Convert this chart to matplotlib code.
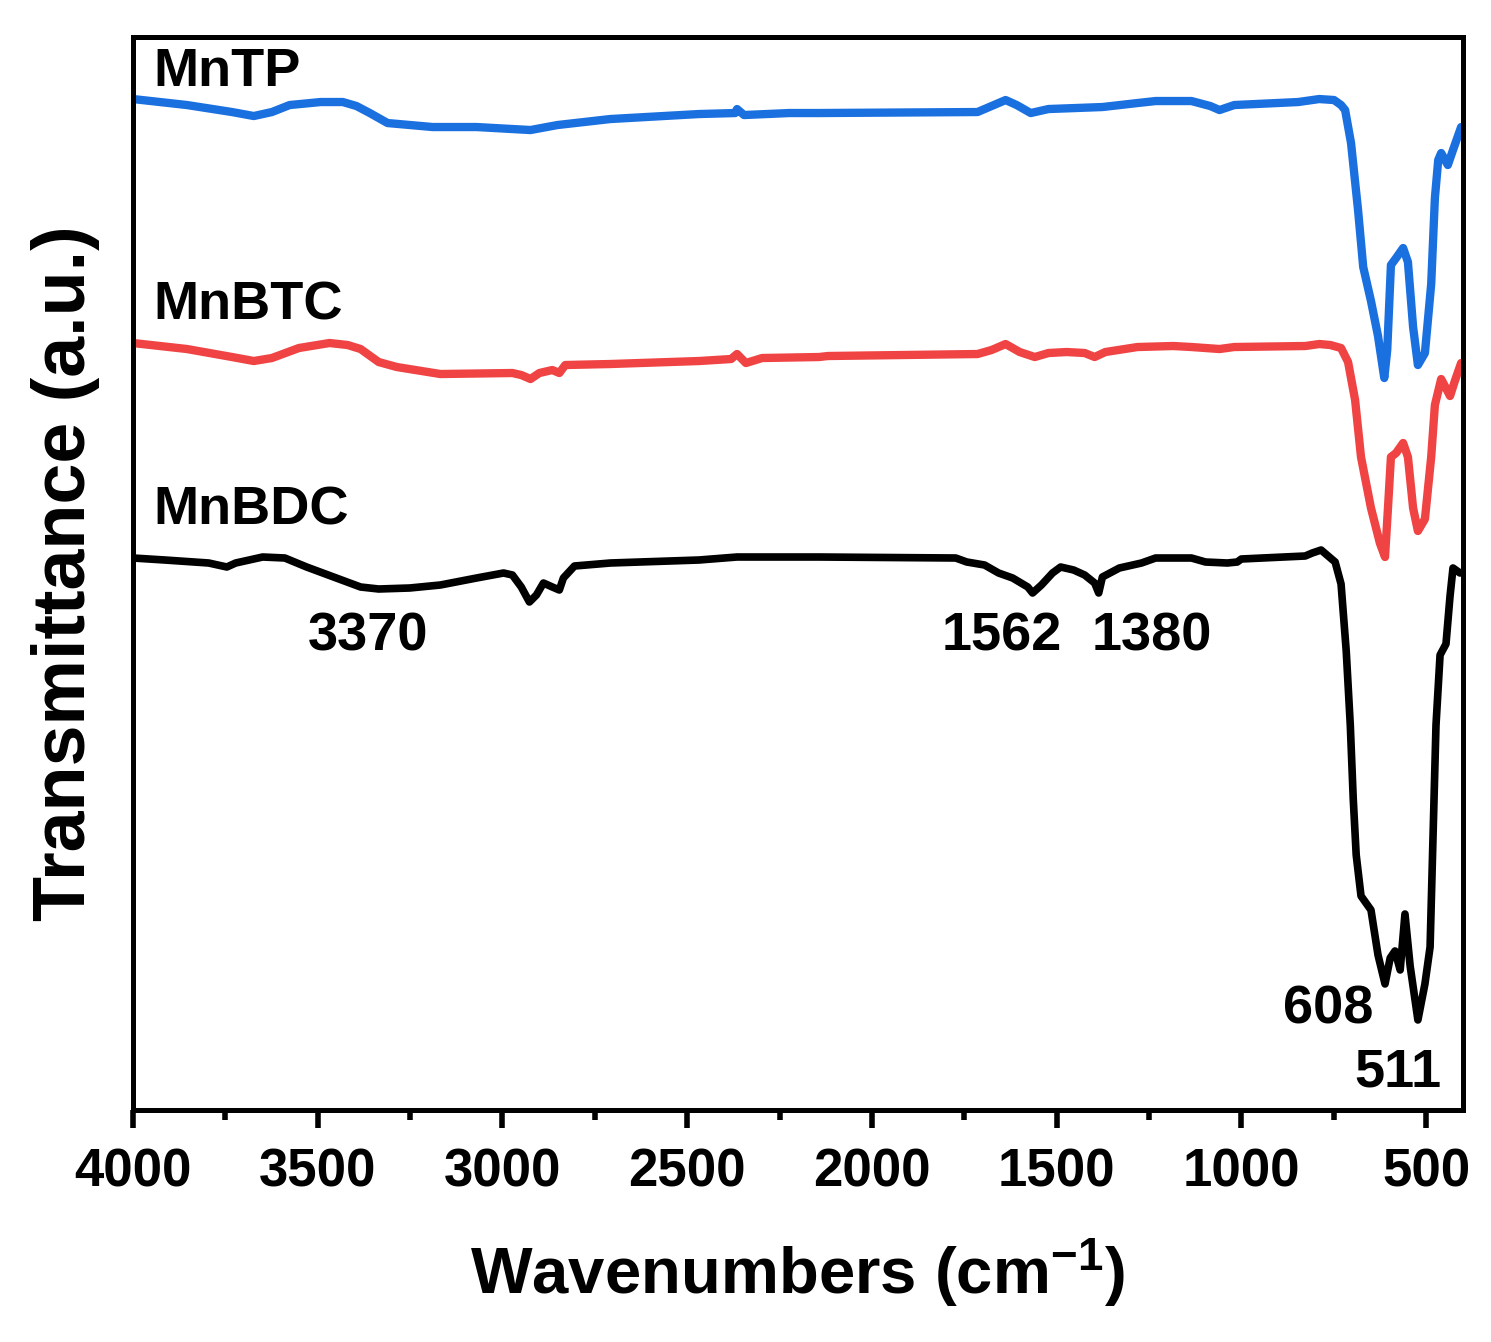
import matplotlib
matplotlib.use("Agg")
import numpy as np
import matplotlib.pyplot as plt
from matplotlib.ticker import MultipleLocator

plt.rcParams['font.family'] = ['Liberation Sans', 'DejaVu Sans']
plt.rcParams['font.weight'] = 'bold'
plt.rcParams['mathtext.fontset'] = 'custom'
plt.rcParams['mathtext.rm'] = 'Liberation Sans:bold'
plt.rcParams['mathtext.bf'] = 'Liberation Sans:bold'
plt.rcParams['mathtext.default'] = 'bf'

# MnTP (blue)
wn_tp = [4000, 3854, 3732, 3673, 3624, 3576, 3492, 3432, 3395, 3359, 3311, 3189, 3070,
         2973, 2924, 2851, 2708, 2468, 2370, 2365, 2346, 2224, 2143, 1714, 1657, 1638,
         1608, 1570, 1522, 1376, 1281, 1232, 1135, 1084, 1059, 1019, 846, 789, 749, 730,
         719, 703, 684, 670, 649, 630, 613, 605, 595, 581, 562, 549, 535, 522, 503, 486,
         476, 467, 459, 441, 427, 405]
t_tp = [101.1, 100.5, 99.8, 99.4, 99.8, 100.5, 100.8, 100.8, 100.4, 99.7, 98.7, 98.3, 98.3,
        98.1, 98.0, 98.5, 99.1, 99.6, 99.7, 100.1, 99.5, 99.7, 99.7, 99.8, 100.7, 101.0,
        100.5, 99.7, 100.1, 100.3, 100.7, 100.9, 100.9, 100.4, 100.0, 100.5, 100.8, 101.1, 101.0, 100.5,
        100.0, 96.7, 90.0, 84.3, 80.9, 77.4, 73.2, 76.0, 84.5, 85.2, 86.2, 84.8, 78.3, 74.5, 75.7, 82.6,
        91.2, 95.0, 95.7, 94.5, 96.0, 98.3]

# MnBTC (red)
wn_btc = [4000, 3854, 3732, 3673, 3624, 3551, 3468, 3419, 3384, 3335, 3286, 3168, 2973,
          2949, 2924, 2900, 2865, 2846, 2830, 2708, 2468, 2381, 2365, 2341, 2297, 2143,
          2119, 1714, 1676, 1638, 1600, 1559, 1522, 1473, 1424, 1397, 1368, 1281, 1184,
          1135, 1059, 1019, 827, 789, 759, 730, 711, 692, 676, 649, 625, 611, 603, 595,
          581, 562, 549, 535, 522, 503, 486, 476, 459, 449, 435, 422, 405]
t_btc = [76.7, 76.1, 75.3, 74.9, 75.2, 76.2, 76.7, 76.5, 76.1, 74.8, 74.3, 73.6, 73.7,
         73.5, 73.1, 73.7, 74.0, 73.7, 74.5, 74.6, 74.9, 75.1, 75.6, 74.7, 75.2, 75.3,
         75.4, 75.6, 76.0, 76.6, 75.8, 75.3, 75.7, 75.8, 75.7, 75.3, 75.8, 76.3, 76.4,
         76.3, 76.1, 76.3, 76.4, 76.6, 76.5, 76.2, 74.8, 71.0, 65.3, 60.2, 56.7, 55.3, 60.2, 65.3,
         65.7, 66.7, 65.3, 60.2, 57.9, 59.1, 65.3, 70.5, 73.1, 72.4, 71.4, 72.9, 74.7]

# MnBDC (black)
wn_bdc = [4000, 3914, 3795, 3746, 3722, 3649, 3589, 3530, 3457, 3384, 3335, 3251, 3168,
          3070, 2997, 2973, 2949, 2927, 2908, 2889, 2865, 2846, 2835, 2805, 2708, 2468,
          2365, 2143, 1773, 1743, 1695, 1657, 1619, 1578, 1565, 1541, 1511, 1489, 1454,
          1424, 1397, 1386, 1376, 1330, 1270, 1232, 1135, 1097, 1038, 1011, 1000, 943,
          827, 808, 784, 746, 730, 716, 705, 697, 689, 676, 649, 630, 611, 597, 584, 570,
          557, 543, 522, 503, 489, 481, 473, 462, 446, 435, 427, 408]
t_bdc = [55.2, 55.0, 54.7, 54.3, 54.7, 55.3, 55.2, 54.3, 53.3, 52.3, 52.1, 52.2, 52.5,
         53.2, 53.7, 53.5, 52.3, 50.8, 51.5, 52.7, 52.3, 52.0, 53.2, 54.4, 54.7, 55.0,
         55.3, 55.3, 55.2, 54.8, 54.5, 53.7, 53.2, 52.3, 51.7, 52.5, 53.7, 54.3, 54.0,
         53.5, 52.7, 51.7, 53.3, 54.2, 54.7, 55.2, 55.2, 54.8, 54.7, 54.8, 55.1, 55.2,
         55.4, 55.7, 56.0, 54.8, 52.6, 45.9, 38.5, 31.1, 25.5, 21.4, 20.0, 15.5, 12.6, 15.2, 15.9, 14.0,
         19.6, 14.4, 9.0, 12.6, 16.3, 27.4, 38.5, 45.5, 46.6, 51.4, 54.2, 53.7]

names = ["MnTP", "MnBTC", "MnBDC"]
name_y = [103.8, 80.5, 60.0]
peak_labels = ["3370", "1562", "1380", "608", "511"]
peak_x = [3365, 1649, 1243, 765, 576]
peak_y = [47.3, 47.3, 47.3, 10.0, 3.7]

fig = plt.figure(figsize=(14.91, 13.42), dpi=100)
ax = fig.add_axes([0.0892, 0.1729, 0.892, 0.7995])

line_kw = dict(solid_joinstyle='round', solid_capstyle='round')
ax.plot(wn_tp, t_tp, color="#1B70E0", lw=6, **line_kw)
ax.plot(wn_btc, t_btc, color="#F04343", lw=6, **line_kw)
ax.plot(wn_bdc, t_bdc, color="black", lw=5.5, **line_kw)

for n, y in zip(names, name_y):
    ax.text(3946, y, n, fontsize=39, fontweight='bold', ha='left', va='center')
for s, x, y in zip(peak_labels, peak_x, peak_y):
    ax.text(x, y, s, fontsize=39, fontweight='bold', ha='center', va='center')

ax.set_xlim(4000, 400)
ax.set_ylim(0, 107.3)
ax.xaxis.set_major_locator(MultipleLocator(500))
ax.xaxis.set_minor_locator(MultipleLocator(250))
ax.set_yticks([])
ax.tick_params(axis='x', which='major', direction='out', length=13, width=4, labelsize=38, pad=14)
ax.tick_params(axis='x', which='minor', direction='out', length=7, width=4)
for sp in ax.spines.values():
    sp.set_linewidth(3.6)

ax.set_xlabel("Wavenumbers (cm$^{-1}$)", fontsize=47, fontweight='bold', labelpad=28)
ax.set_ylabel("Transmittance (a.u.)", fontsize=53, fontweight='bold', labelpad=24)

fig.savefig("out.png", dpi=100)
